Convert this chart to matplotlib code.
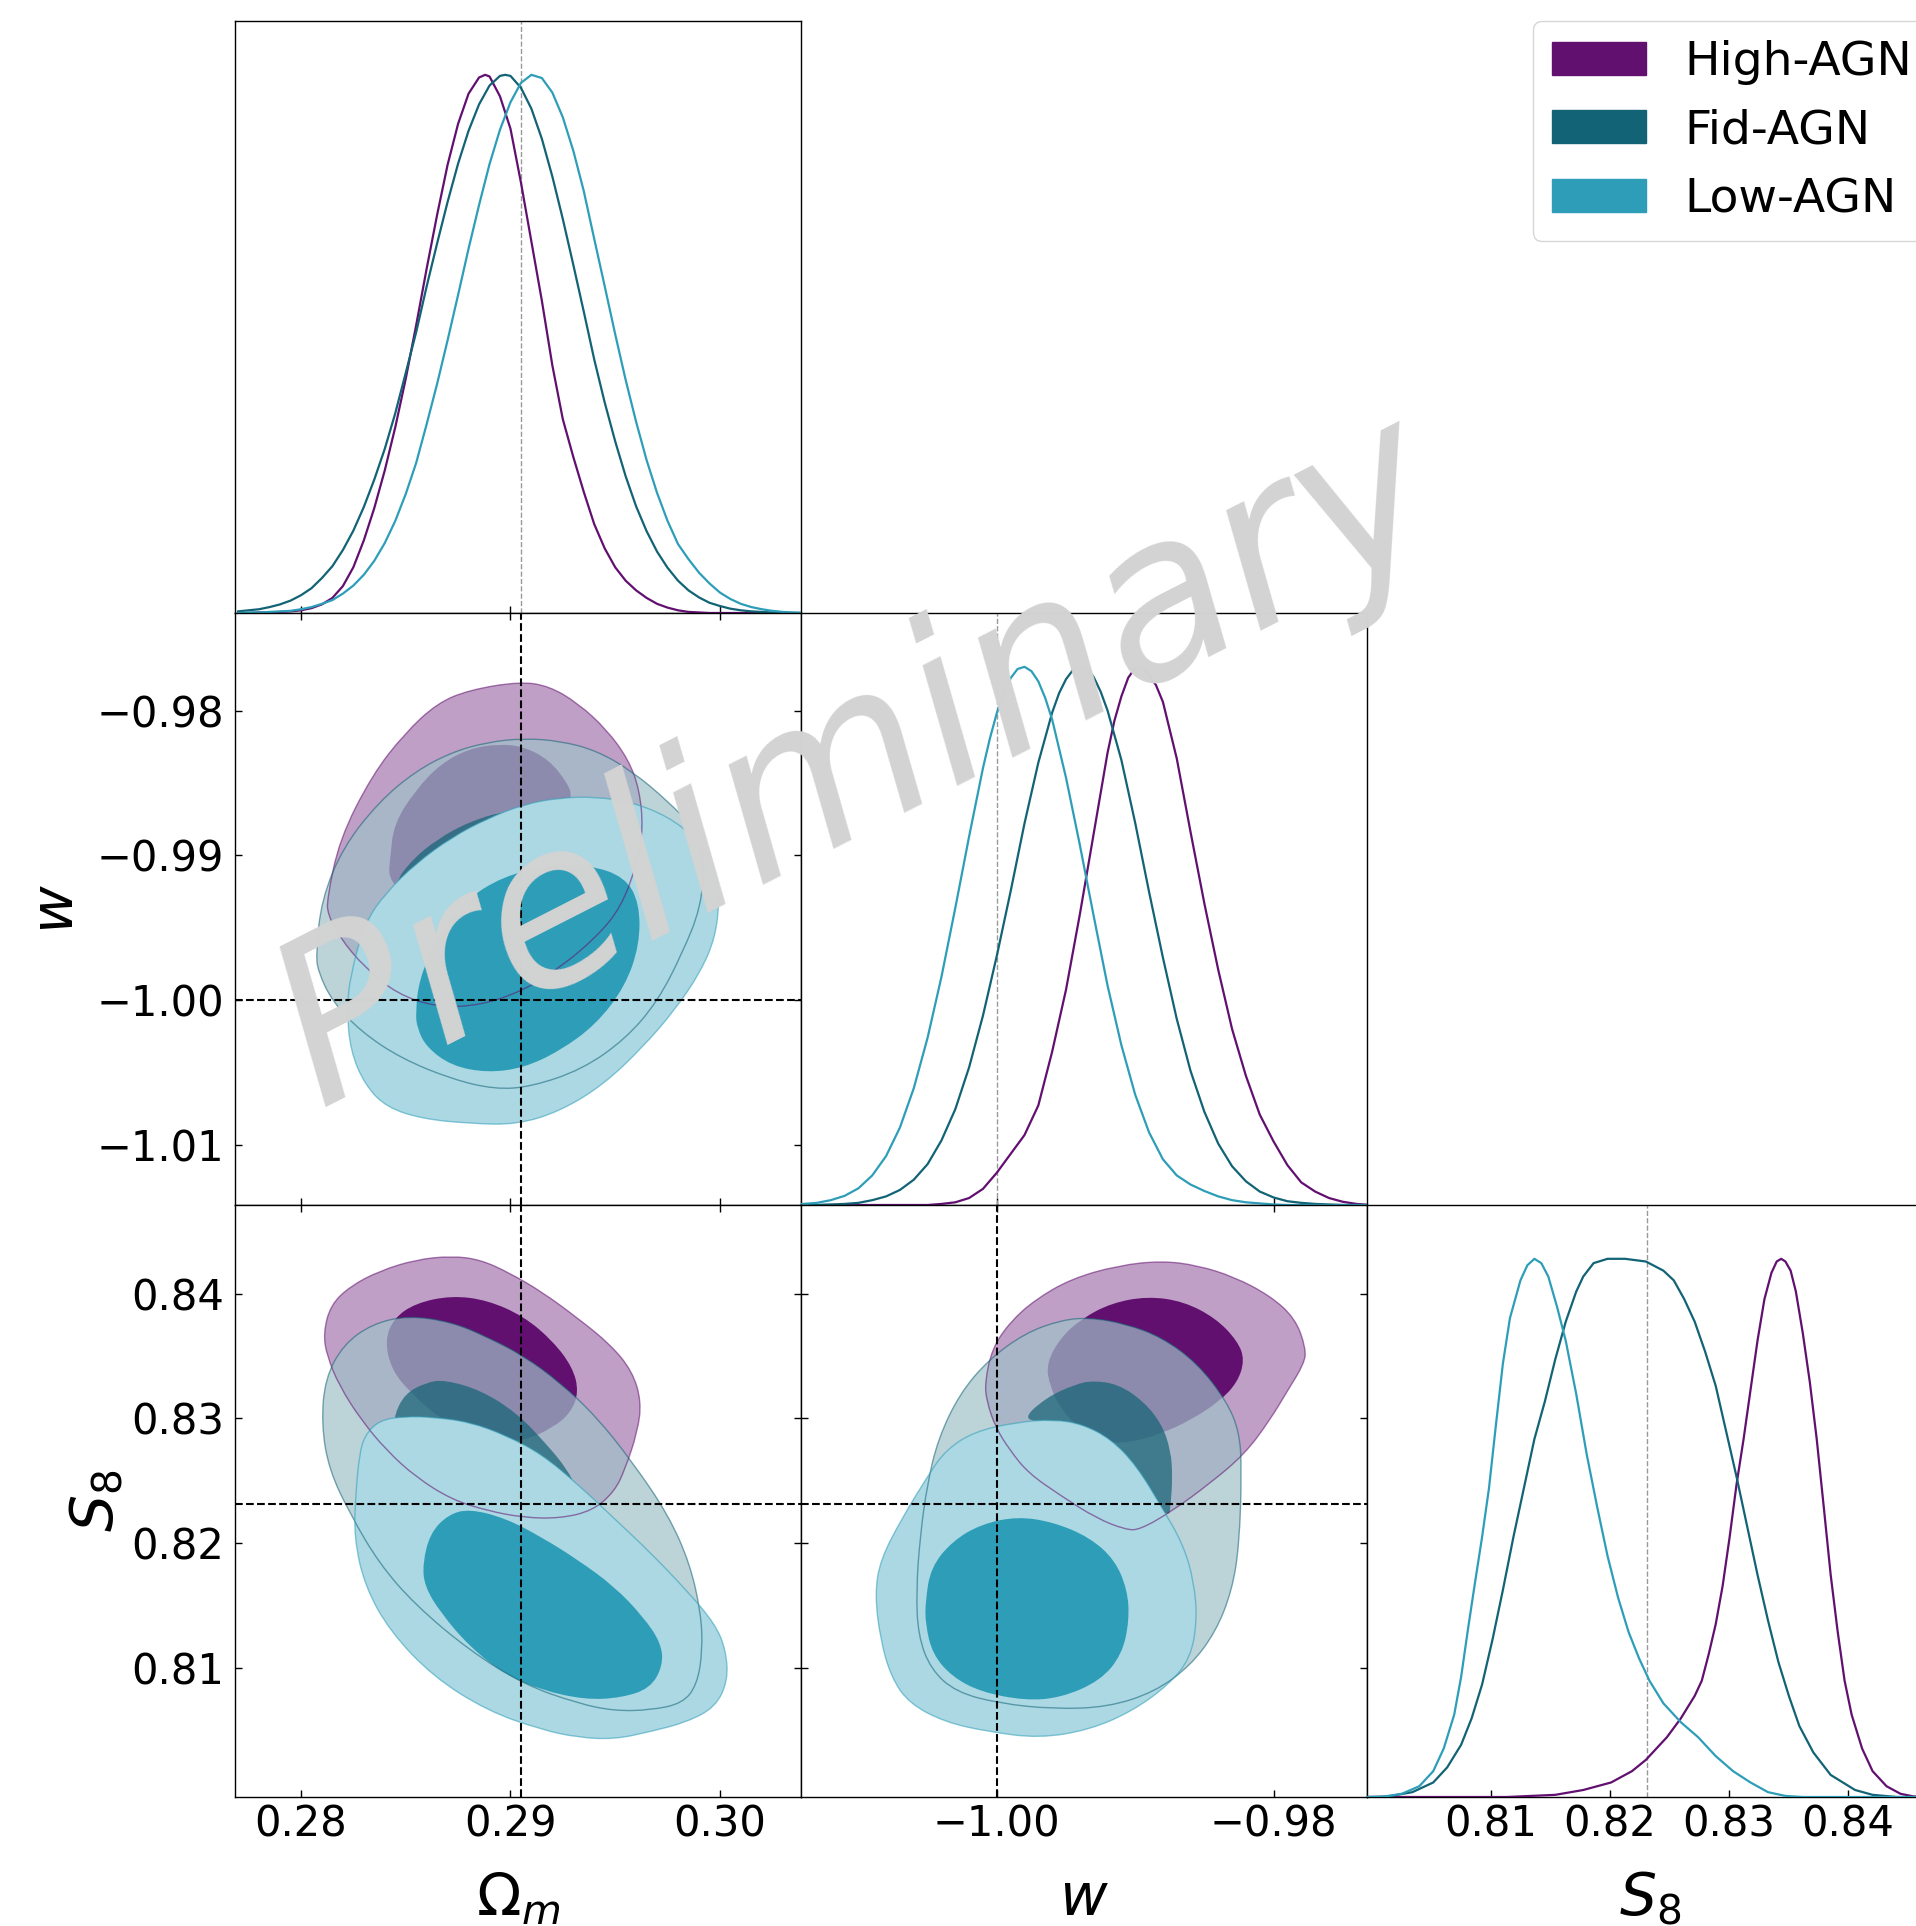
import matplotlib
matplotlib.use("Agg")
import matplotlib.pyplot as plt
import matplotlib.colors as mcolors
from matplotlib.patches import Patch, PathPatch
from matplotlib.path import Path

# ──────────────────────────────────────────────────────────────────────────
# Runs, colours, fiducial values
# ──────────────────────────────────────────────────────────────────────────
LABELS = ["High-AGN", "Fid-AGN", "Low-AGN"]
HIGH_COLOR = "#621070"
FID_COLOR = "#126375"
LOW_COLOR = "#2e9eb8"

OM_TRUE = 0.2905
W_TRUE = -1.00
S8_TRUE = 0.8231

OM_RANGE = (0.27685, 0.30387)
W_RANGE = (-1.01415, -0.97325)
S8_RANGE = (0.79961, 0.84712)

OM_TICKS = [0.28, 0.29, 0.30]
W_TICKS_X = [-1.00, -0.98]
W_TICKS_Y = [-1.01, -1.00, -0.99, -0.98]
S8_TICKS = [0.81, 0.82, 0.83, 0.84]

# ──────────────────────────────────────────────────────────────────────────
# 1D marginals, (x, p/p_max)
# ──────────────────────────────────────────────────────────────────────────
OM_HIGH = [(0.2770, 0.000), (0.2775, 0.000), (0.2780, 0.001), (0.2785, 0.001),
           (0.2790, 0.002), (0.2795, 0.003), (0.2800, 0.005), (0.2805, 0.009),
           (0.2810, 0.016), (0.2815, 0.028), (0.2820, 0.050), (0.2825, 0.085),
           (0.2830, 0.135), (0.2835, 0.195), (0.2840, 0.265), (0.2845, 0.345),
           (0.2850, 0.435), (0.2855, 0.535), (0.2860, 0.640), (0.2865, 0.740),
           (0.2870, 0.833), (0.2875, 0.909), (0.2880, 0.965), (0.2885, 0.995),
           (0.28879, 1.000), (0.2890, 0.997), (0.2895, 0.960), (0.2900, 0.900),
           (0.2905, 0.800), (0.2910, 0.690), (0.2915, 0.580), (0.2920, 0.460),
           (0.2925, 0.360), (0.2930, 0.290), (0.2935, 0.225), (0.2940, 0.165),
           (0.2945, 0.120), (0.2950, 0.085), (0.2955, 0.060), (0.2960, 0.042),
           (0.2965, 0.028), (0.2970, 0.017), (0.2975, 0.010), (0.2980, 0.005),
           (0.2985, 0.002), (0.2990, 0.001), (0.2995, 0.000), (0.3040, 0.000)]
OM_FID = [(0.2770, 0.003), (0.2775, 0.005), (0.2780, 0.007), (0.2785, 0.011),
          (0.2790, 0.016), (0.2795, 0.023), (0.2800, 0.033), (0.2805, 0.046),
          (0.2810, 0.065), (0.2815, 0.087), (0.2820, 0.117), (0.2825, 0.153),
          (0.2830, 0.197), (0.2835, 0.248), (0.2840, 0.305), (0.2845, 0.371),
          (0.2850, 0.446), (0.2855, 0.522), (0.2860, 0.607), (0.2865, 0.687),
          (0.2870, 0.764), (0.2875, 0.835), (0.2880, 0.896), (0.2885, 0.945),
          (0.2890, 0.980), (0.2895, 0.998), (0.28975, 1.000), (0.2900, 0.998),
          (0.2905, 0.976), (0.2910, 0.937), (0.2915, 0.881), (0.2920, 0.811),
          (0.2925, 0.732), (0.2930, 0.647), (0.2935, 0.560), (0.2940, 0.471),
          (0.2945, 0.391), (0.2950, 0.319), (0.2955, 0.254), (0.2960, 0.198),
          (0.2965, 0.152), (0.2970, 0.114), (0.2975, 0.084), (0.2980, 0.060),
          (0.2985, 0.042), (0.2990, 0.029), (0.2995, 0.019), (0.3000, 0.013),
          (0.3005, 0.008), (0.3010, 0.005), (0.3015, 0.003), (0.3020, 0.002),
          (0.3025, 0.001), (0.3030, 0.000), (0.3040, 0.000)]
OM_LOW = [(0.2770, 0.000), (0.2775, 0.001), (0.2780, 0.001), (0.2785, 0.002),
          (0.2790, 0.003), (0.2795, 0.004), (0.2800, 0.007), (0.2805, 0.011),
          (0.2810, 0.017), (0.2815, 0.024), (0.2820, 0.036), (0.2825, 0.051),
          (0.2830, 0.071), (0.2835, 0.097), (0.2840, 0.130), (0.2845, 0.171),
          (0.2850, 0.221), (0.2855, 0.279), (0.2860, 0.351), (0.2865, 0.426),
          (0.2870, 0.507), (0.2875, 0.591), (0.2880, 0.677), (0.2885, 0.758),
          (0.2890, 0.834), (0.2895, 0.898), (0.2900, 0.949), (0.2905, 0.985),
          (0.2910, 1.000), (0.2915, 0.994), (0.2920, 0.967), (0.2925, 0.921),
          (0.2930, 0.859), (0.2935, 0.784), (0.2940, 0.695), (0.2945, 0.607),
          (0.2950, 0.518), (0.2955, 0.433), (0.2960, 0.355), (0.2965, 0.284),
          (0.2970, 0.223), (0.2975, 0.171), (0.2980, 0.128), (0.2985, 0.100),
          (0.2990, 0.075), (0.2995, 0.055), (0.3000, 0.038), (0.3005, 0.026),
          (0.3010, 0.017), (0.3015, 0.011), (0.3020, 0.007), (0.3025, 0.004),
          (0.3030, 0.002), (0.3035, 0.001), (0.3040, 0.000)]

W_HIGH = [(-1.0145, 0.000), (-1.005, 0.000), (-1.004, 0.002), (-1.003, 0.005),
          (-1.002, 0.013), (-1.001, 0.030), (-1.000, 0.060), (-0.999, 0.095),
          (-0.998, 0.130), (-0.997, 0.185), (-0.996, 0.285), (-0.995, 0.400),
          (-0.994, 0.540), (-0.993, 0.690), (-0.992, 0.840), (-0.9915, 0.900),
          (-0.991, 0.945), (-0.9905, 0.980), (-0.990, 0.998), (-0.9895, 0.997),
          (-0.989, 0.985), (-0.9885, 0.966), (-0.988, 0.935), (-0.987, 0.830),
          (-0.986, 0.693), (-0.985, 0.560), (-0.984, 0.437), (-0.983, 0.327),
          (-0.982, 0.240), (-0.981, 0.168), (-0.980, 0.118), (-0.979, 0.074),
          (-0.978, 0.042), (-0.977, 0.025), (-0.976, 0.013), (-0.975, 0.006),
          (-0.974, 0.002), (-0.973, 0.000)]
W_FID = [(-1.0145, 0.000), (-1.013, 0.000), (-1.012, 0.001), (-1.011, 0.002),
         (-1.010, 0.004), (-1.009, 0.009), (-1.008, 0.016), (-1.007, 0.028),
         (-1.006, 0.047), (-1.005, 0.076), (-1.004, 0.120), (-1.003, 0.178),
         (-1.002, 0.256), (-1.001, 0.352), (-1.000, 0.463), (-0.999, 0.583),
         (-0.998, 0.709), (-0.997, 0.822), (-0.996, 0.915), (-0.9955, 0.951),
         (-0.995, 0.977), (-0.9945, 0.994), (-0.994, 1.000), (-0.9935, 0.996),
         (-0.993, 0.981), (-0.9925, 0.954), (-0.992, 0.919), (-0.991, 0.827),
         (-0.990, 0.710), (-0.989, 0.582), (-0.988, 0.460), (-0.987, 0.346),
         (-0.986, 0.249), (-0.985, 0.173), (-0.984, 0.114), (-0.983, 0.072),
         (-0.982, 0.044), (-0.981, 0.025), (-0.980, 0.014), (-0.979, 0.007),
         (-0.978, 0.004), (-0.977, 0.002), (-0.976, 0.001), (-0.975, 0.000),
         (-0.973, 0.000)]
W_LOW = [(-1.0145, 0.001), (-1.014, 0.002), (-1.013, 0.004), (-1.012, 0.009),
         (-1.011, 0.017), (-1.010, 0.031), (-1.009, 0.055), (-1.008, 0.091),
         (-1.007, 0.144), (-1.006, 0.217), (-1.005, 0.311), (-1.004, 0.424),
         (-1.003, 0.552), (-1.002, 0.685), (-1.001, 0.812), (-1.0005, 0.867),
         (-1.000, 0.914), (-0.9995, 0.951), (-0.999, 0.979), (-0.9985, 0.996),
         (-0.998, 1.000), (-0.9975, 0.992), (-0.997, 0.973), (-0.9965, 0.942),
         (-0.996, 0.902), (-0.995, 0.794), (-0.994, 0.669), (-0.993, 0.537),
         (-0.992, 0.408), (-0.991, 0.297), (-0.990, 0.205), (-0.989, 0.135),
         (-0.988, 0.085), (-0.987, 0.055), (-0.986, 0.038), (-0.985, 0.026),
         (-0.984, 0.016), (-0.983, 0.009), (-0.982, 0.005), (-0.981, 0.003),
         (-0.980, 0.001), (-0.979, 0.000), (-0.973, 0.000)]

S8_HIGH = [(0.79961, 0.000), (0.81132, 0.000), (0.81541, 0.004), (0.81776, 0.013),
           (0.82010, 0.027), (0.82185, 0.048), (0.82302, 0.069), (0.82478, 0.111),
           (0.82595, 0.146), (0.82712, 0.188), (0.82771, 0.216), (0.82829, 0.265),
           (0.82888, 0.321), (0.82946, 0.392), (0.83005, 0.483), (0.83063, 0.581),
           (0.83122, 0.665), (0.83180, 0.756), (0.83239, 0.848), (0.83297, 0.925),
           (0.83356, 0.974), (0.83400, 0.995), (0.83438, 1.000), (0.83473, 0.995),
           (0.83517, 0.978), (0.83561, 0.939), (0.83619, 0.862), (0.83678, 0.771),
           (0.83736, 0.665), (0.83795, 0.539), (0.83853, 0.413), (0.83912, 0.307),
           (0.83970, 0.216), (0.84029, 0.153), (0.84117, 0.090), (0.84205, 0.048),
           (0.84322, 0.020), (0.84439, 0.006), (0.84550, 0.001), (0.84712, 0.000)]
S8_FID = [(0.79961, 0.000), (0.80137, 0.001), (0.80342, 0.009), (0.80517, 0.027),
          (0.80634, 0.055), (0.80751, 0.097), (0.80839, 0.146), (0.80927, 0.209),
          (0.81015, 0.293), (0.81102, 0.385), (0.81190, 0.483), (0.81278, 0.574),
          (0.81366, 0.665), (0.81454, 0.735), (0.81541, 0.813), (0.81629, 0.883),
          (0.81717, 0.939), (0.81776, 0.967), (0.81863, 0.992), (0.81980, 1.000),
          (0.82127, 1.000), (0.82302, 0.995), (0.82449, 0.978), (0.82536, 0.960),
          (0.82624, 0.925), (0.82712, 0.883), (0.82800, 0.827), (0.82888, 0.764),
          (0.82975, 0.680), (0.83063, 0.595), (0.83151, 0.504), (0.83239, 0.413),
          (0.83327, 0.328), (0.83414, 0.251), (0.83502, 0.188), (0.83590, 0.132),
          (0.83707, 0.083), (0.83853, 0.041), (0.84058, 0.013), (0.84205, 0.004),
          (0.84409, 0.000), (0.84712, 0.000)]
S8_LOW = [(0.79961, 0.000), (0.80078, 0.000), (0.80254, 0.006), (0.80400, 0.020),
          (0.80517, 0.048), (0.80605, 0.090), (0.80693, 0.153), (0.80751, 0.223),
          (0.80810, 0.314), (0.80868, 0.399), (0.80927, 0.483), (0.80985, 0.574),
          (0.81044, 0.693), (0.81102, 0.806), (0.81161, 0.890), (0.81249, 0.960),
          (0.81307, 0.988), (0.81366, 1.000), (0.81424, 0.992), (0.81483, 0.967),
          (0.81556, 0.911), (0.81629, 0.848), (0.81717, 0.749), (0.81805, 0.637),
          (0.81893, 0.539), (0.81980, 0.448), (0.82068, 0.371), (0.82156, 0.307),
          (0.82244, 0.258), (0.82332, 0.216), (0.82449, 0.174), (0.82595, 0.139),
          (0.82741, 0.111), (0.82888, 0.076), (0.83034, 0.048), (0.83180, 0.027),
          (0.83327, 0.009), (0.83473, 0.002), (0.83619, 0.000), (0.84712, 0.000)]

# ──────────────────────────────────────────────────────────────────────────
# 2D contours (68% inner / 95% outer)
# ──────────────────────────────────────────────────────────────────────────
OMW_HIGH_OUTER = [(0.28129, -0.99410), (0.28124, -0.99305), (0.28184, -0.98888),
                  (0.28340, -0.98444), (0.28495, -0.98157), (0.28650, -0.97948),
                  (0.28805, -0.97856), (0.29046, -0.97799), (0.29184, -0.97830),
                  (0.29322, -0.97948), (0.29460, -0.98131), (0.29564, -0.98339),
                  (0.29616, -0.98548), (0.29633, -0.98809), (0.29607, -0.99044),
                  (0.29529, -0.99357), (0.29409, -0.99566), (0.29236, -0.99775),
                  (0.29064, -0.99932), (0.28857, -1.00036), (0.28650, -1.00049),
                  (0.28460, -0.99958), (0.28305, -0.99775), (0.28184, -0.99566)]
OMW_HIGH_INNER = [(0.28417, -0.99149), (0.28426, -0.99018), (0.28443, -0.98783),
                  (0.28547, -0.98548), (0.28667, -0.98366), (0.28805, -0.98261),
                  (0.28943, -0.98230), (0.29064, -0.98248), (0.29184, -0.98339),
                  (0.29271, -0.98496), (0.29297, -0.98601), (0.29236, -0.98888),
                  (0.29098, -0.99149), (0.28891, -0.99305), (0.28650, -0.99357),
                  (0.28478, -0.99253)]
OMW_FID_OUTER = [(0.28081, -0.99801), (0.28072, -0.99671), (0.28098, -0.99305),
                 (0.28202, -0.98940), (0.28374, -0.98627), (0.28547, -0.98418),
                 (0.28719, -0.98287), (0.28891, -0.98217), (0.29064, -0.98191),
                 (0.29236, -0.98209), (0.29409, -0.98274), (0.29581, -0.98418),
                 (0.29753, -0.98627), (0.29874, -0.98809), (0.29926, -0.99044),
                 (0.29909, -0.99357), (0.29822, -0.99671), (0.29702, -1.00010),
                 (0.29547, -1.00271), (0.29340, -1.00480), (0.29098, -1.00598),
                 (0.28926, -1.00616), (0.28719, -1.00545), (0.28478, -1.00402),
                 (0.28288, -1.00219), (0.28150, -1.00010)]
OMW_FID_INNER = [(0.28443, -0.99201), (0.28529, -0.99031), (0.28650, -0.98888),
                 (0.28805, -0.98765), (0.28995, -0.98684), (0.29167, -0.98731),
                 (0.29271, -0.98888), (0.29271, -0.99149), (0.29167, -0.99410),
                 (0.28995, -0.99566), (0.28788, -0.99618), (0.28581, -0.99566),
                 (0.28460, -0.99410)]
OMW_LOW_OUTER = [(0.28219, -1.00062), (0.28236, -0.99827), (0.28305, -0.99462),
                 (0.28409, -0.99253), (0.28547, -0.99057), (0.28719, -0.98875),
                 (0.28891, -0.98744), (0.29064, -0.98647), (0.29236, -0.98601),
                 (0.29409, -0.98595), (0.29581, -0.98632), (0.29753, -0.98731),
                 (0.29891, -0.98888), (0.29978, -0.99097), (0.29998, -0.99305),
                 (0.29978, -0.99566), (0.29909, -0.99801), (0.29788, -1.00062),
                 (0.29633, -1.00323), (0.29443, -1.00585), (0.29236, -1.00768),
                 (0.29029, -1.00860), (0.28805, -1.00852), (0.28581, -1.00820),
                 (0.28409, -1.00741), (0.28305, -1.00585), (0.28236, -1.00350)]
OMW_LOW_INNER = [(0.28555, -1.00193), (0.28547, -1.00089), (0.28564, -0.99854),
                 (0.28650, -0.99566), (0.28788, -0.99305), (0.28960, -0.99149),
                 (0.29167, -0.99071), (0.29374, -0.99065), (0.29547, -0.99149),
                 (0.29616, -0.99332), (0.29616, -0.99618), (0.29547, -0.99906),
                 (0.29409, -1.00167), (0.29236, -1.00350), (0.29064, -1.00467),
                 (0.28891, -1.00501), (0.28719, -1.00454), (0.28598, -1.00323)]

OMS8_HIGH_OUTER = [(0.28107, 0.83682), (0.28141, 0.83909), (0.28236, 0.84061),
                   (0.28374, 0.84182), (0.28547, 0.84273), (0.28719, 0.84303),
                   (0.28857, 0.84273), (0.28995, 0.84167), (0.29150, 0.84015),
                   (0.29322, 0.83803), (0.29478, 0.83591), (0.29581, 0.83379),
                   (0.29625, 0.83136), (0.29607, 0.82894), (0.29547, 0.82591),
                   (0.29495, 0.82409), (0.29391, 0.82258), (0.29236, 0.82197),
                   (0.29064, 0.82203), (0.28891, 0.82258), (0.28719, 0.82348),
                   (0.28547, 0.82530), (0.28409, 0.82742), (0.28288, 0.82985),
                   (0.28184, 0.83258), (0.28124, 0.83500)]
OMS8_HIGH_INNER = [(0.28400, 0.83621), (0.28443, 0.83803), (0.28547, 0.83924),
                   (0.28719, 0.83985), (0.28891, 0.83948), (0.29064, 0.83818),
                   (0.29202, 0.83621), (0.29297, 0.83409), (0.29326, 0.83212),
                   (0.29288, 0.83045), (0.29202, 0.82924), (0.29064, 0.82818),
                   (0.28926, 0.82818), (0.28788, 0.82894), (0.28650, 0.83015),
                   (0.28529, 0.83197), (0.28435, 0.83379)]
OMS8_FID_OUTER = [(0.28512, 0.83824), (0.28719, 0.83773), (0.28891, 0.83651),
                  (0.29064, 0.83500), (0.29236, 0.83288), (0.29409, 0.83015),
                  (0.29581, 0.82652), (0.29753, 0.82227), (0.29857, 0.81833),
                  (0.29909, 0.81439), (0.29917, 0.81136), (0.29891, 0.80864),
                  (0.29822, 0.80712), (0.29667, 0.80658), (0.29495, 0.80652),
                  (0.29322, 0.80712), (0.29064, 0.80864), (0.28805, 0.81136),
                  (0.28547, 0.81500), (0.28374, 0.81833), (0.28236, 0.82227),
                  (0.28133, 0.82591), (0.28098, 0.82954), (0.28115, 0.83318),
                  (0.28202, 0.83591), (0.28340, 0.83758)]
OMS8_FID_INNER = [(0.28443, 0.83015), (0.28495, 0.83197), (0.28598, 0.83288),
                  (0.28685, 0.83309), (0.28857, 0.83227), (0.29029, 0.83045),
                  (0.29167, 0.82803), (0.29271, 0.82591), (0.29314, 0.82439),
                  (0.29236, 0.82409), (0.29064, 0.82591), (0.28891, 0.82742),
                  (0.28719, 0.82864), (0.28547, 0.82924), (0.28460, 0.82970)]
OMS8_LOW_OUTER = [(0.28279, 0.82712), (0.28305, 0.82864), (0.28374, 0.82985),
                  (0.28495, 0.83015), (0.28633, 0.83009), (0.28805, 0.82970),
                  (0.28978, 0.82864), (0.29150, 0.82712), (0.29322, 0.82470),
                  (0.29495, 0.82197), (0.29667, 0.81924), (0.29840, 0.81621),
                  (0.29978, 0.81348), (0.30029, 0.81136), (0.30038, 0.80894),
                  (0.29978, 0.80682), (0.29840, 0.80561), (0.29667, 0.80485),
                  (0.29495, 0.80424), (0.29322, 0.80439), (0.29150, 0.80500),
                  (0.28891, 0.80652), (0.28633, 0.80924), (0.28426, 0.81288),
                  (0.28305, 0.81652), (0.28253, 0.82045), (0.28262, 0.82409)]
OMS8_LOW_INNER = [(0.28581, 0.81833), (0.28616, 0.82076), (0.28702, 0.82227),
                  (0.28805, 0.82273), (0.28978, 0.82197), (0.29150, 0.82045),
                  (0.29322, 0.81864), (0.29495, 0.81652), (0.29633, 0.81409),
                  (0.29719, 0.81197), (0.29728, 0.81015), (0.29667, 0.80833),
                  (0.29529, 0.80757), (0.29357, 0.80742), (0.29150, 0.80818),
                  (0.28978, 0.80940), (0.28805, 0.81167), (0.28667, 0.81439),
                  (0.28590, 0.81652)]

WS8_HIGH_OUTER = [(-1.00073, 0.83136), (-1.00086, 0.83288), (-1.00034, 0.83561),
                  (-0.99904, 0.83773), (-0.99721, 0.83954), (-0.99460, 0.84121),
                  (-0.99121, 0.84227), (-0.98808, 0.84264), (-0.98548, 0.84227),
                  (-0.98287, 0.84136), (-0.98027, 0.83985), (-0.97844, 0.83803),
                  (-0.97766, 0.83561), (-0.97779, 0.83439), (-0.97896, 0.83227),
                  (-0.98027, 0.82985), (-0.98209, 0.82712), (-0.98469, 0.82470),
                  (-0.98730, 0.82258), (-0.98965, 0.82106), (-0.99069, 0.82106),
                  (-0.99278, 0.82197), (-0.99538, 0.82379), (-0.99773, 0.82561),
                  (-0.99904, 0.82742), (-1.00008, 0.82924)]
WS8_HIGH_INNER = [(-0.99617, 0.83258), (-0.99643, 0.83439), (-0.99538, 0.83651),
                  (-0.99382, 0.83803), (-0.99174, 0.83924), (-0.98913, 0.83979),
                  (-0.98652, 0.83939), (-0.98417, 0.83803), (-0.98261, 0.83621),
                  (-0.98209, 0.83470), (-0.98261, 0.83288), (-0.98391, 0.83136),
                  (-0.98600, 0.82985), (-0.98808, 0.82879), (-0.99017, 0.82809),
                  (-0.99200, 0.82803), (-0.99408, 0.82924), (-0.99538, 0.83076)]
WS8_FID_OUTER = [(-1.00555, 0.82045), (-1.00503, 0.82470), (-1.00425, 0.82833),
                 (-1.00269, 0.83197), (-1.00060, 0.83470), (-0.99799, 0.83682),
                 (-0.99538, 0.83788), (-0.99330, 0.83809), (-0.99069, 0.83758),
                 (-0.98808, 0.83651), (-0.98548, 0.83439), (-0.98339, 0.83136),
                 (-0.98248, 0.82894), (-0.98230, 0.82591), (-0.98248, 0.81985),
                 (-0.98300, 0.81621), (-0.98417, 0.81288), (-0.98600, 0.81015),
                 (-0.98861, 0.80803), (-0.99200, 0.80682), (-0.99591, 0.80667),
                 (-0.99982, 0.80712), (-1.00295, 0.80803), (-1.00477, 0.80985),
                 (-1.00569, 0.81258), (-1.00582, 0.81621)]
WS8_FID_INNER = [(-0.99825, 0.82985), (-0.99643, 0.83167), (-0.99434, 0.83273),
                 (-0.99304, 0.83303), (-0.99121, 0.83273), (-0.98939, 0.83136),
                 (-0.98808, 0.82954), (-0.98743, 0.82742), (-0.98730, 0.82530),
                 (-0.98743, 0.82318), (-0.98756, 0.82197), (-0.98939, 0.82409),
                 (-0.99069, 0.82621), (-0.99200, 0.82833), (-0.99382, 0.82924),
                 (-0.99591, 0.82970)]
WS8_LOW_OUTER = [(-1.00881, 0.81591), (-1.00842, 0.81864), (-1.00686, 0.82197),
                 (-1.00503, 0.82530), (-1.00373, 0.82742), (-1.00164, 0.82894),
                 (-0.99851, 0.82970), (-0.99591, 0.82991), (-0.99382, 0.82954),
                 (-0.99174, 0.82833), (-0.98991, 0.82621), (-0.98808, 0.82288),
                 (-0.98652, 0.81985), (-0.98574, 0.81682), (-0.98553, 0.81379),
                 (-0.98600, 0.81076), (-0.98756, 0.80864), (-0.99017, 0.80652),
                 (-0.99330, 0.80500), (-0.99695, 0.80433), (-1.00060, 0.80485),
                 (-1.00373, 0.80561), (-1.00634, 0.80712), (-1.00764, 0.80924),
                 (-1.00842, 0.81227)]
WS8_LOW_INNER = [(-1.00516, 0.81530), (-1.00477, 0.81803), (-1.00321, 0.82015),
                 (-1.00112, 0.82151), (-0.99851, 0.82212), (-0.99591, 0.82167),
                 (-0.99330, 0.82045), (-0.99147, 0.81864), (-0.99056, 0.81621),
                 (-0.99043, 0.81379), (-0.99095, 0.81106), (-0.99252, 0.80894),
                 (-0.99538, 0.80757), (-0.99799, 0.80736), (-1.00112, 0.80803),
                 (-1.00321, 0.80924), (-1.00464, 0.81106), (-1.00516, 0.81348)]

# ──────────────────────────────────────────────────────────────────────────
# Layout (pixels of the 1916 x 1926 canvas)
# ──────────────────────────────────────────────────────────────────────────
FIG_W, FIG_H = 1916, 1926
COL_X = [235, 801, 1367]
ROW_Y = [21, 613, 1205]
PANEL_W, PANEL_H = 566, 592
TICK_SIZE = 30
LABEL_SIZE = 42


def lighten(color, frac=0.4):
    r, g, b = mcolors.to_rgb(color)
    return (1 - frac * (1 - r), 1 - frac * (1 - g), 1 - frac * (1 - b))


def minus(v):
    return f"{v:.2f}".replace("-", "\u2212")


def smooth_path(points):
    """Closed quadratic-Bezier outline using the traced points as control points."""
    n = len(points)
    mids = [((points[i][0] + points[(i + 1) % n][0]) / 2,
             (points[i][1] + points[(i + 1) % n][1]) / 2) for i in range(n)]
    verts = [mids[-1]]
    codes = [Path.MOVETO]
    for i in range(n):
        verts += [points[i], mids[i]]
        codes += [Path.CURVE3, Path.CURVE3]
    verts.append(mids[-1])
    codes.append(Path.CLOSEPOLY)
    return Path(verts, codes)


def add_panel(fig, col, row):
    rect = [COL_X[col] / FIG_W, 1 - (ROW_Y[row] + PANEL_H) / FIG_H,
            PANEL_W / FIG_W, PANEL_H / FIG_H]
    ax = fig.add_axes(rect)
    for s in ax.spines.values():
        s.set_linewidth(1.0)
    ax.tick_params(direction="in", length=5, width=1.0, labelsize=TICK_SIZE)
    ax.tick_params(axis="x", pad=5)
    ax.tick_params(axis="y", pad=8)
    return ax


def style_2d(ax, xlim, ylim, xticks, yticks):
    ax.set_xlim(*xlim)
    ax.set_ylim(*ylim)
    ax.set_xticks(xticks, [minus(v) for v in xticks])
    ax.set_yticks(yticks, [minus(v) for v in yticks])
    ax.tick_params(top=True, right=True)


def style_1d(ax, xlim, xticks):
    ax.set_xlim(*xlim)
    ax.set_ylim(0, 1.1)
    ax.set_xticks(xticks, [minus(v) for v in xticks])
    ax.set_yticks([])
    ax.tick_params(top=False)


def draw_2d(ax, sets, xtrue, ytrue):
    # sets: (outer, inner, colour, alpha), bottom layer first
    for z, (outer, inner, color, alpha) in enumerate(sets):
        ax.add_patch(PathPatch(smooth_path(outer), facecolor=lighten(color),
                               edgecolor="none", alpha=alpha, zorder=1 + z))
        ax.add_patch(PathPatch(smooth_path(inner), facecolor=color,
                               edgecolor="none", alpha=alpha, zorder=1 + z))
    for outer, inner, color, alpha in sets:
        ax.add_patch(PathPatch(smooth_path(outer), fill=False, edgecolor=color,
                               lw=1.0, alpha=0.55, zorder=5))
    ax.axvline(xtrue, color="k", ls="--", lw=1.5, zorder=6)
    ax.axhline(ytrue, color="k", ls="--", lw=1.5, zorder=6)


def draw_1d(ax, curves, xtrue):
    for pts, color in curves:
        ax.plot([p[0] for p in pts], [p[1] for p in pts], color=color, lw=1.6, zorder=3)
    ax.axvline(xtrue, color="0.6", ls="--", lw=1.0, zorder=2)


def main():
    fig = plt.figure(figsize=(FIG_W / 100, FIG_H / 100), dpi=100)

    # diagonal: Omega_m
    ax = add_panel(fig, 0, 0)
    draw_1d(ax, [(OM_HIGH, HIGH_COLOR), (OM_FID, FID_COLOR), (OM_LOW, LOW_COLOR)], OM_TRUE)
    style_1d(ax, OM_RANGE, OM_TICKS)
    ax.tick_params(labelbottom=False)

    # Omega_m - w
    ax = add_panel(fig, 0, 1)
    draw_2d(ax, [(OMW_HIGH_OUTER, OMW_HIGH_INNER, HIGH_COLOR, 1.0),
                 (OMW_FID_OUTER, OMW_FID_INNER, FID_COLOR, 0.7),
                 (OMW_LOW_OUTER, OMW_LOW_INNER, LOW_COLOR, 1.0)], OM_TRUE, W_TRUE)
    style_2d(ax, OM_RANGE, W_RANGE, OM_TICKS, W_TICKS_Y)
    ax.tick_params(labelbottom=False)
    ax.set_ylabel(r"$w$", fontsize=LABEL_SIZE, labelpad=8)

    # diagonal: w
    ax = add_panel(fig, 1, 1)
    draw_1d(ax, [(W_HIGH, HIGH_COLOR), (W_FID, FID_COLOR), (W_LOW, LOW_COLOR)], W_TRUE)
    style_1d(ax, W_RANGE, W_TICKS_X)
    ax.tick_params(labelbottom=False)

    # Omega_m - S8
    ax = add_panel(fig, 0, 2)
    draw_2d(ax, [(OMS8_HIGH_OUTER, OMS8_HIGH_INNER, HIGH_COLOR, 1.0),
                 (OMS8_FID_OUTER, OMS8_FID_INNER, FID_COLOR, 0.7),
                 (OMS8_LOW_OUTER, OMS8_LOW_INNER, LOW_COLOR, 1.0)], OM_TRUE, S8_TRUE)
    style_2d(ax, OM_RANGE, S8_RANGE, OM_TICKS, S8_TICKS)
    ax.set_xlabel(r"$\Omega_m$", fontsize=LABEL_SIZE, labelpad=17)
    ax.set_ylabel(r"$S_8$", fontsize=LABEL_SIZE, labelpad=4)

    # w - S8
    ax = add_panel(fig, 1, 2)
    draw_2d(ax, [(WS8_HIGH_OUTER, WS8_HIGH_INNER, HIGH_COLOR, 1.0),
                 (WS8_FID_OUTER, WS8_FID_INNER, FID_COLOR, 0.7),
                 (WS8_LOW_OUTER, WS8_LOW_INNER, LOW_COLOR, 1.0)], W_TRUE, S8_TRUE)
    style_2d(ax, W_RANGE, S8_RANGE, W_TICKS_X, S8_TICKS)
    ax.tick_params(labelleft=False)
    ax.set_xlabel(r"$w$", fontsize=LABEL_SIZE, labelpad=17)

    # diagonal: S8
    ax = add_panel(fig, 2, 2)
    draw_1d(ax, [(S8_HIGH, HIGH_COLOR), (S8_FID, FID_COLOR), (S8_LOW, LOW_COLOR)], S8_TRUE)
    style_1d(ax, S8_RANGE, S8_TICKS)
    ax.set_xlabel(r"$S_8$", fontsize=LABEL_SIZE, labelpad=17)

    # legend
    handles = [Patch(facecolor=c, edgecolor=c) for c in (HIGH_COLOR, FID_COLOR, LOW_COLOR)]
    fig.legend(handles, LABELS, loc="upper left",
               bbox_to_anchor=(1533 / FIG_W, 1 - 21 / FIG_H), borderaxespad=0,
               fontsize=34, frameon=True, fancybox=True, edgecolor="0.8")

    # watermark
    fig.text(858 / FIG_W, 1 - 763 / FIG_H, "Preliminary", fontsize=161,
             color="lightgray", style="italic", rotation=27,
             ha="center", va="center", zorder=20)

    fig.savefig("out.png", dpi=100)


if __name__ == "__main__":
    main()
